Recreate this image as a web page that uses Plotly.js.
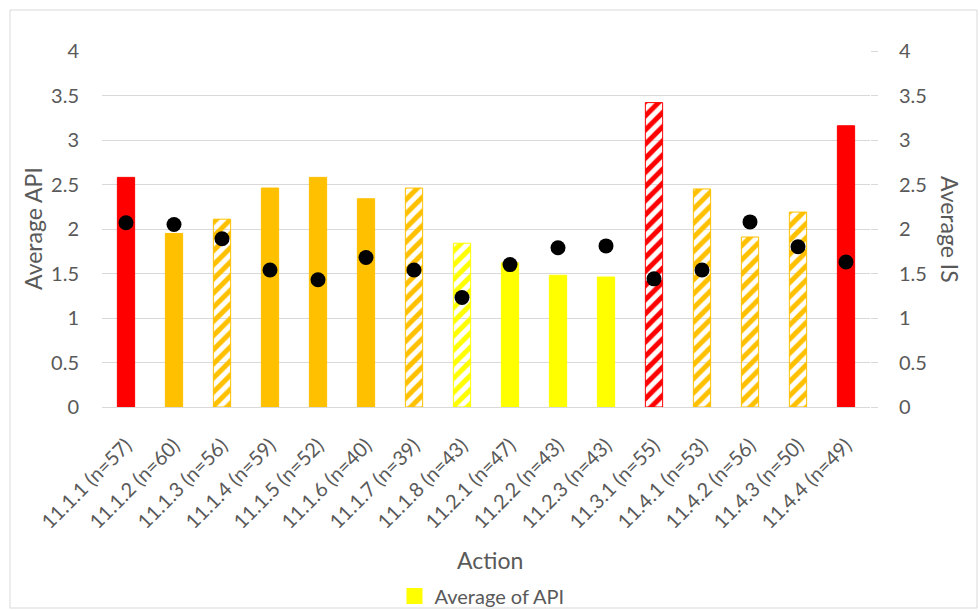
<!DOCTYPE html>
<html>
<head>
<meta charset="utf-8">
<script src="https://cdn.plot.ly/plotly-3.0.1.min.js"></script>
<style>
  html, body { margin: 0; padding: 0; background: #fff; }
  #chart { width: 979px; height: 610px; }
</style>
</head>
<body>
<div id="chart"></div>
<script>
const categories = ["11.1.1 (n=57)", "11.1.2 (n=60)", "11.1.3 (n=56)", "11.1.4 (n=59)", "11.1.5 (n=52)", "11.1.6 (n=40)", "11.1.7 (n=39)", "11.1.8 (n=43)", "11.2.1 (n=47)", "11.2.2 (n=43)", "11.2.3 (n=43)", "11.3.1 (n=55)", "11.4.1 (n=53)", "11.4.2 (n=56)", "11.4.3 (n=50)", "11.4.4 (n=49)"];
const avgAPI = [2.58, 1.95, 2.11, 2.46, 2.58, 2.34, 2.46, 1.84, 1.62, 1.48, 1.46, 3.42, 2.45, 1.91, 2.19, 3.16];
const avgIS  = [2.07, 2.05, 1.89, 1.54, 1.43, 1.68, 1.54, 1.23, 1.60, 1.79, 1.81, 1.44, 1.54, 2.08, 1.80, 1.63];
const barColors = ["#FF0000", "#FFC000", "#FFC000", "#FFC000", "#FFC000", "#FFC000", "#FFC000", "#FFFF00", "#FFFF00", "#FFFF00", "#FFFF00", "#FF0000", "#FFC000", "#FFC000", "#FFC000", "#FF0000"];
const hatched = [false, false, true, false, false, false, true, true, false, false, false, true, true, true, true, false];
const yTicks = [0, 0.5, 1, 1.5, 2, 2.5, 3, 3.5, 4];

const textColor = "#595959";
const gridColor = "#d9d9d9";
const font = "Lato, 'Open Sans', sans-serif";

const patternShapes = hatched.map(h => h ? "/" : "");

const barTrace = {
  type: "bar",
  x: categories,
  y: avgAPI,
  width: 0.36,
  marker: {
    color: barColors,
    line: { color: barColors, width: 1 },
    pattern: {
      shape: patternShapes,
      fgcolor: barColors,
      bgcolor: "#FFFFFF",
      size: 10,
      solidity: 0.5
    }
  },
  showlegend: false
};

const isTrace = {
  type: "scatter",
  mode: "markers",
  x: categories,
  y: avgIS,
  yaxis: "y2",
  marker: { color: "#000000", size: 15 },
  showlegend: false,
  name: "Average of IS"
};

const legendTrace = {
  type: "scatter",
  mode: "markers",
  x: [categories[0]],
  y: [null],
  name: "Average of API",
  marker: { color: "#FFFF00", symbol: "square", size: 20 },
  showlegend: true
};

const plotL = 102, plotR = 870, plotT = 51, plotB = 407;
const W = 979, H = 610;
const pw = plotR - plotL, ph = plotB - plotT;
const px = v => (v - plotL) / pw;
const py = v => (plotB - v) / ph;

const layout = {
  width: W,
  height: H,
  margin: { l: plotL, r: W - plotR, t: plotT, b: H - plotB, pad: 0 },
  paper_bgcolor: "#FFFFFF",
  plot_bgcolor: "#FFFFFF",
  font: { family: font, color: textColor, size: 20 },
  barmode: "overlay",
  xaxis: {
    type: "category",
    categoryorder: "array",
    categoryarray: categories,
    range: [-0.5, categories.length - 0.5],
    autorange: false,
    tickangle: -45,
    tickfont: { size: 20, color: textColor },
    ticklabelstandoff: 18,
    showgrid: false,
    showline: true,
    linecolor: gridColor,
    linewidth: 1,
    ticks: "",
    zeroline: false,
    automargin: false
  },
  yaxis: {
    range: [0, 4],
    autorange: false,
    tickvals: yTicks,
    ticktext: yTicks.map(String),
    showgrid: true,
    gridcolor: gridColor,
    gridwidth: 1,
    zeroline: false,
    ticks: "",
    ticklabelstandoff: 22,
    tickfont: { size: 20, color: textColor },
    automargin: false
  },
  yaxis2: {
    overlaying: "y",
    side: "right",
    range: [0, 4],
    autorange: false,
    tickvals: yTicks,
    ticktext: yTicks.map(String),
    showgrid: false,
    zeroline: false,
    ticks: "outside",
    ticklen: 7,
    tickcolor: gridColor,
    ticklabelstandoff: 17,
    tickfont: { size: 20, color: textColor },
    automargin: false
  },
  legend: {
    orientation: "h",
    xref: "container",
    yref: "container",
    x: 482 / W,
    xanchor: "center",
    y: 1 - 596 / H,
    yanchor: "middle",
    font: { size: 20, color: textColor },
    bgcolor: "rgba(0,0,0,0)",
    itemwidth: 30
  },
  annotations: [
    {
      text: "Action", xref: "paper", yref: "paper",
      x: px(490), y: py(560), xanchor: "center", yanchor: "middle",
      showarrow: false, font: { size: 23, color: textColor }
    },
    {
      text: "Average API", xref: "paper", yref: "paper",
      x: px(33), y: py(229), xanchor: "center", yanchor: "middle",
      textangle: -90, showarrow: false, font: { size: 23, color: textColor }
    },
    {
      text: "Average IS", xref: "paper", yref: "paper",
      x: px(950), y: py(229), xanchor: "center", yanchor: "middle",
      textangle: 90, showarrow: false, font: { size: 23, color: textColor }
    }
  ],
  shapes: [
    {
      type: "rect", xref: "paper", yref: "paper",
      x0: px(10), x1: px(977), y0: py(10), y1: py(608),
      line: { color: gridColor, width: 1 },
      fillcolor: "rgba(0,0,0,0)",
      layer: "below"
    }
  ]
};

Plotly.newPlot("chart", [barTrace, isTrace, legendTrace], layout, { displayModeBar: false, staticPlot: true });
</script>
</body>
</html>
